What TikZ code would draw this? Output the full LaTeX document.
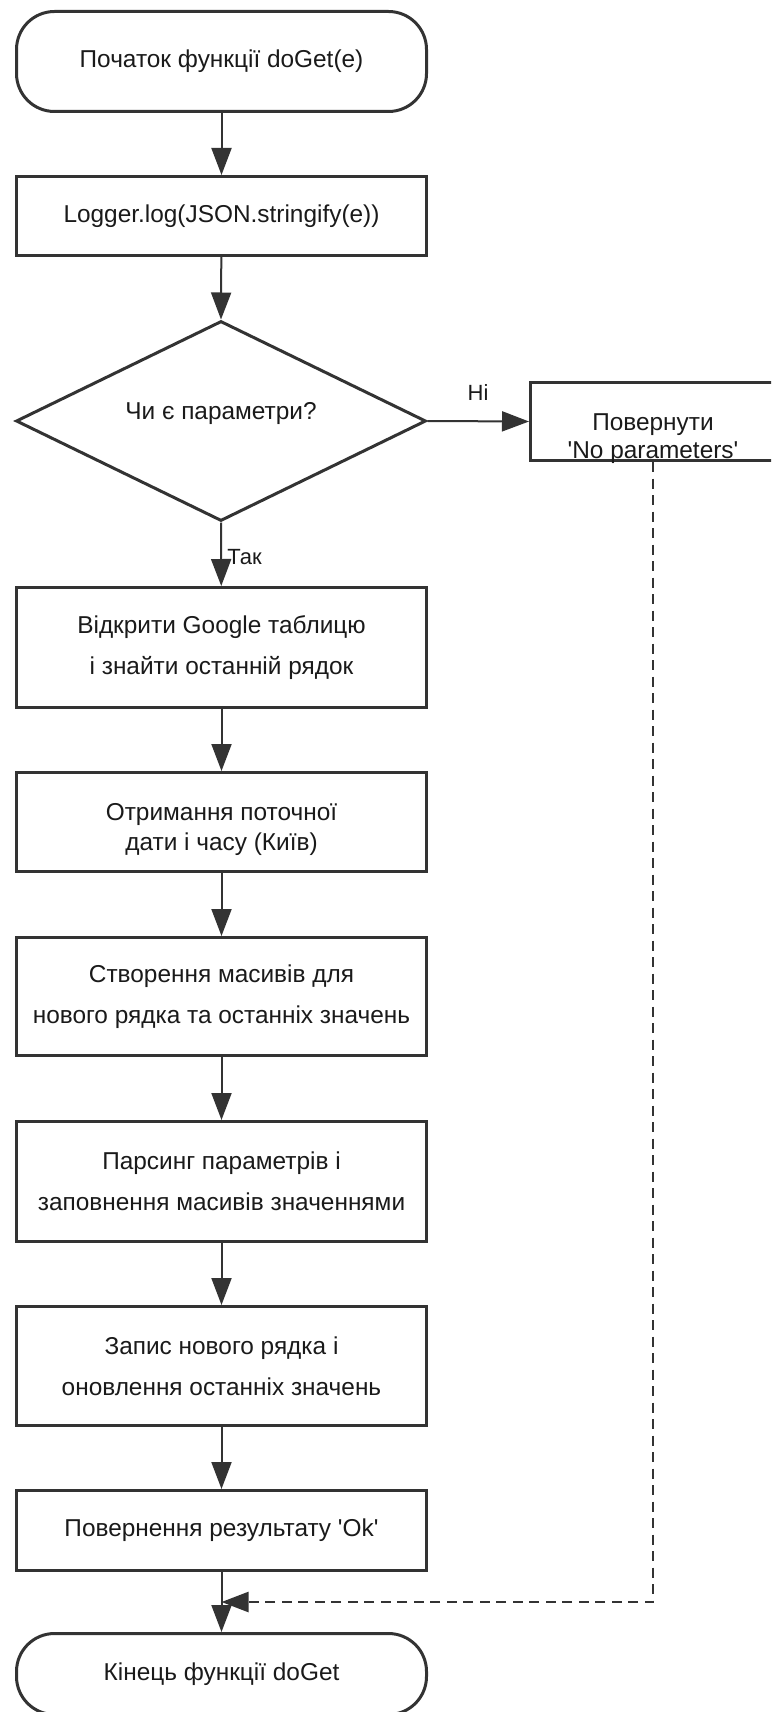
\documentclass[tikz,border=0pt]{standalone}
\usepackage{fontspec}
\setmainfont{Liberation Sans}
\usetikzlibrary{arrows.meta,shapes.geometric}
\definecolor{ink}{HTML}{333333}
\definecolor{txt}{HTML}{1A1A1A}
\begin{document}
\begin{tikzpicture}[x=1pt,y=-1pt,
  shapeframe/.style={draw=ink, line width=3pt, fill=white, text=txt,
    font=\fontsize{24.4pt}{41pt}\selectfont, align=center, inner sep=0pt,
    minimum width=410pt},
  terminal/.style={shapeframe, rectangle, rounded corners=38pt},
  procbox/.style={shapeframe, rectangle},
  decision/.style={shapeframe, diamond, minimum height=200pt},
  boxtext/.style={text=txt, align=center, inner sep=0pt},
  flowarrow/.style={draw=ink, line width=2pt, -{Triangle[length=27pt,width=20pt]}},
  dashedreturn/.style={flowarrow, line width=2.5pt, dash pattern=on 10pt off 6.5pt},
  branch/.style={text=txt, font=\fontsize{22pt}{26pt}\selectfont, inner sep=0pt},
]
\useasboundingbox (0,0) rectangle (771,1712);
\fill[white] (0,0) rectangle (771,1712);
\clip (0,0) rectangle (771,1712);

% main column
\node[terminal, minimum height=100pt] (start) at (221.5,61.5) {Початок функції doGet(e)};
\node[procbox, minimum height=79pt] (log) at (221.5,216) {Logger.log(JSON.stringify(e))};
\node[decision] (q) at (221,421) {};
\node[boxtext, font=\fontsize{24.4pt}{41pt}\selectfont] (qt) at (221,414) {Чи є параметри?};

% "no parameters" branch
\node[procbox, minimum width=245pt, minimum height=78pt] (ret) at (653,421.5) {};
\node[boxtext, font=\fontsize{24.4pt}{28pt}\selectfont] (rett) at (653,439)
  {Повернути\\\textquotesingle No parameters\textquotesingle};

\node[procbox, minimum height=120pt] (b3) at (221.5,647.5) {Відкрити Google таблицю\\і знайти останній рядок};
\node[procbox, minimum height=99pt] (b4) at (221.5,822) {};
\node[boxtext, font=\fontsize{24.4pt}{30pt}\selectfont] (b4t) at (221.5,830) {Отримання поточної\\дати і часу (Київ)};
\node[procbox, minimum height=118pt] (b5) at (221.5,996.5) {Створення масивів для\\нового рядка та останніх значень};
\node[procbox, minimum height=120pt] (b6) at (221.5,1181.5) {Парсинг параметрів і\\заповнення масивів значеннями};
\node[procbox, minimum height=119pt] (b7) at (221.5,1366) {Запис нового рядка і\\оновлення останніх значень};
\node[procbox, minimum height=80pt] (b8) at (221.5,1530.5) {Повернення результату \textquotesingle Ok\textquotesingle};
\node[terminal, minimum height=81pt] (stop) at (221.5,1674) {Кінець функції doGet};

\coordinate (join) at (221.5,1602);

% connectors
\draw[flowarrow] (start) -- (log);
\draw[flowarrow] (log) -- (q.north);
\draw[flowarrow] (q.east) -- (ret.west);
\draw[flowarrow] (q.south) -- (b3);
\draw[flowarrow] (b3) -- (b4);
\draw[flowarrow] (b4) -- (b5);
\draw[flowarrow] (b5) -- (b6);
\draw[flowarrow] (b6) -- (b7);
\draw[flowarrow] (b7) -- (b8);
\draw[flowarrow] (b8) -- (stop);
\draw[dashedreturn] (ret.south) |- (join);

% branch labels
\node[branch] (no) at (478,393) {Ні};
\node[branch] (yes) at (244.5,557) {Так};
\end{tikzpicture}
\end{document}
